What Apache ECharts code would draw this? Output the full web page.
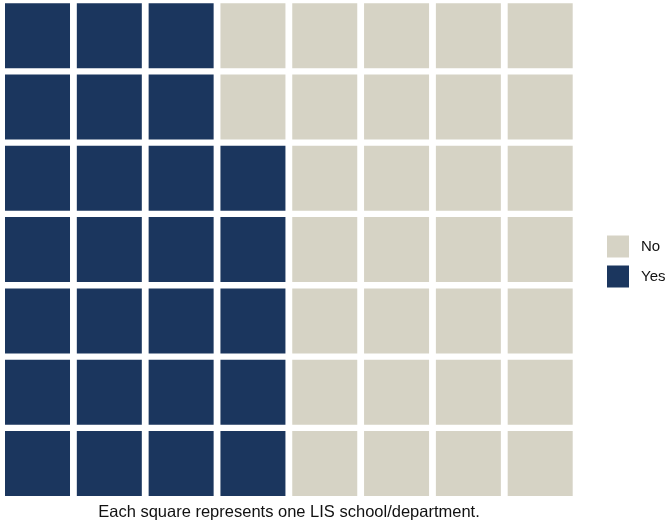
<!DOCTYPE html>
<html>
<head>
<meta charset="utf-8">
<script src="https://cdn.jsdelivr.net/npm/echarts@6/dist/echarts.min.js"></script>
<style>
  html, body { margin: 0; padding: 0; background: #fff; }
  #main { width: 667px; height: 520px; }
</style>
</head>
<body>
<div id="main"></div>
<script>
// waffle data: one square per school
var categories = ['No', 'Yes']
var counts = [30, 26]
var colors = ['#d6d3c5', '#1b365e']
var nCols = 8
var nRows = 7
var caption = 'Each square represents one LIS school/department.'

// fill column by column, bottom to top, Yes first
var fillOrder = ['Yes', 'No']
var cells = { No: [], Yes: [] }
var idx = 0
fillOrder.forEach(function (name) {
  var n = counts[categories.indexOf(name)]
  for (var k = 0; k < n; k++) {
    var col = Math.floor(idx / nRows)
    var row = idx % nRows
    cells[name].push([col, row])
    idx++
  }
})

var xCats = []
for (var i = 0; i < nCols; i++) xCats.push(i)
var yCats = []
for (var j = 0; j < nRows; j++) yCats.push(j)

var chart = echarts.init(document.getElementById('main'), null, { renderer: 'canvas' })

var option = {
  backgroundColor: '#ffffff',
  animation: false,
  grid: { left: 1.6, top: -2.8, width: 574.5, height: 502 },
  xAxis: { type: 'category', data: xCats, show: false },
  yAxis: { type: 'category', data: yCats, show: false },
  legend: {
    orient: 'vertical',
    left: 602,
    top: 230.5,
    itemWidth: 22,
    itemHeight: 22,
    itemGap: 8,
    icon: 'rect',
    textStyle: { fontFamily: 'Liberation Sans', fontSize: 15, color: '#111111', padding: [0, 0, 0, 7] },
    data: categories
  },
  series: categories.map(function (name, i) {
    return {
      name: name,
      type: 'scatter',
      symbol: 'rect',
      symbolSize: [65, 65],
      itemStyle: { color: colors[i], opacity: 1 },
      emphasis: { disabled: true },
      data: cells[name]
    }
  }),
  graphic: [{
    type: 'text',
    style: {
      text: caption,
      x: 289,
      y: 512,
      textAlign: 'center',
      textVerticalAlign: 'middle',
      fontFamily: 'Liberation Sans',
      fontSize: 16.5,
      fill: '#111111'
    }
  }]
}

chart.setOption(option)
</script>
</body>
</html>
